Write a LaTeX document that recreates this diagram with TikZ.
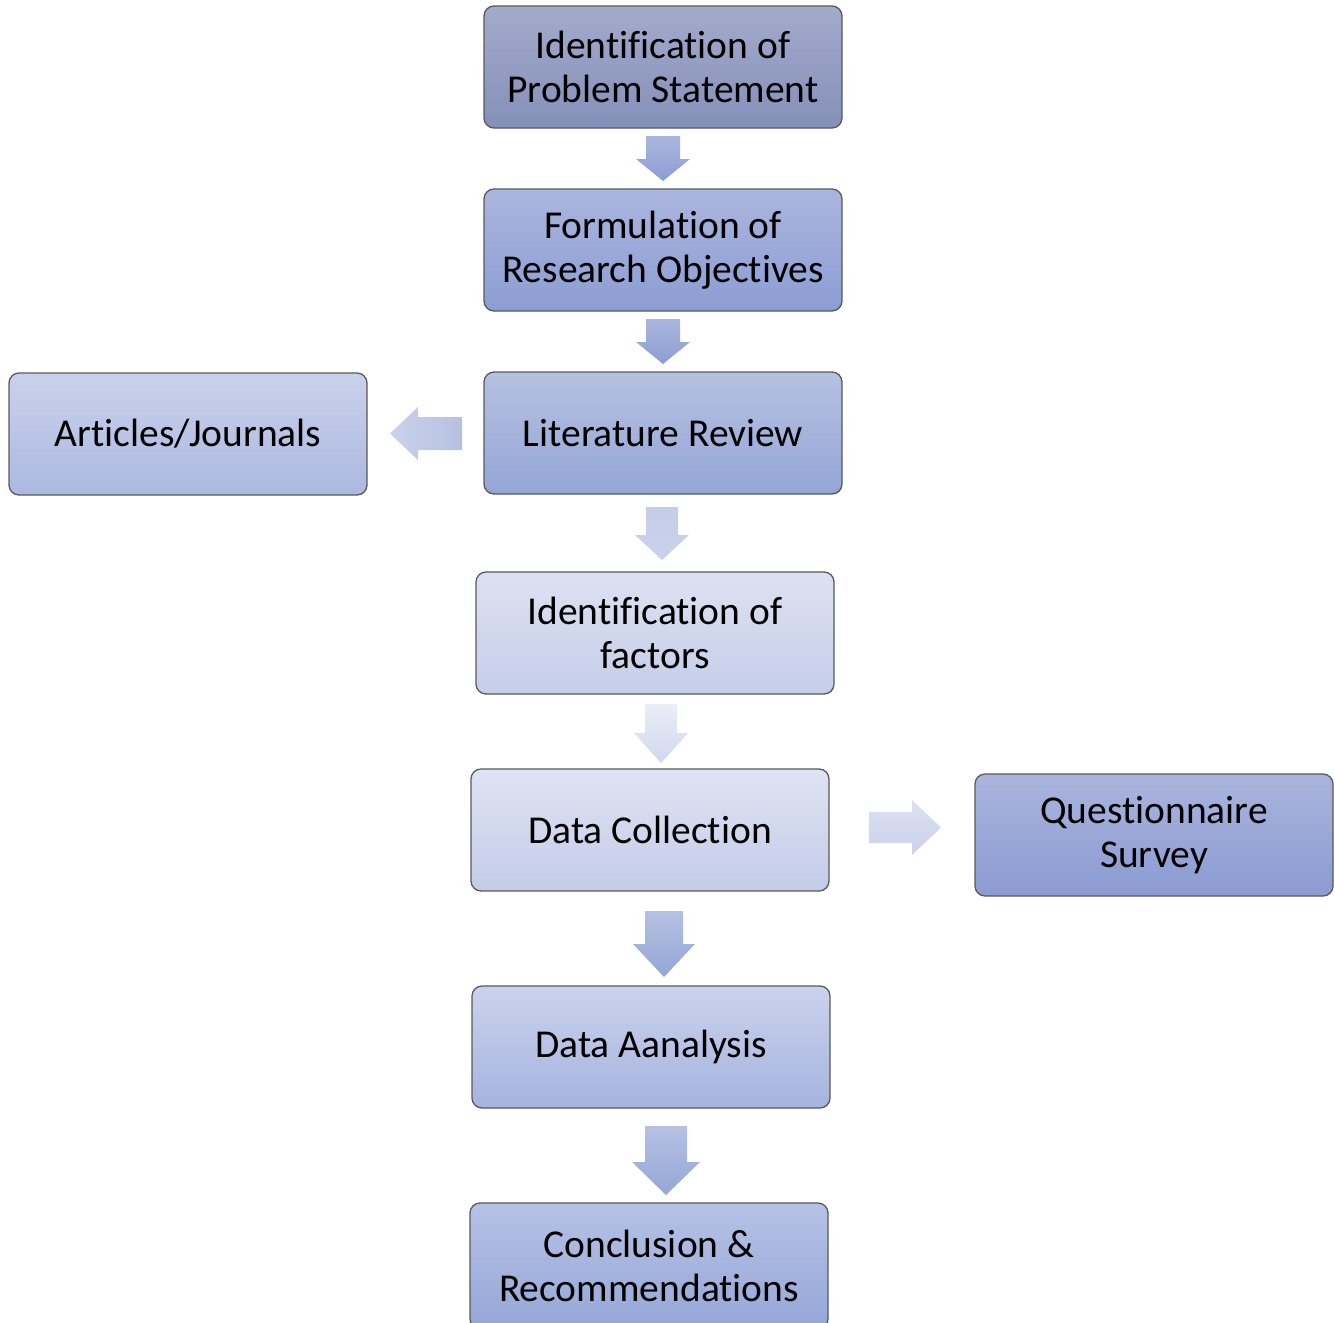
\documentclass[tikz,border=0pt]{standalone}
\usepackage{fontspec}
\setmainfont[Ligatures=NoCommon]{Carlito}
\begin{document}
\begin{tikzpicture}[x=1pt,y=-1pt,
  stepbox/.style={draw=black!65, line width=1.3pt, rounded corners=10pt,
    minimum width=358pt, minimum height=122pt, align=center, inner sep=0pt,
    font=\fontsize{39.5}{44}\selectfont, text=black}]
\useasboundingbox (0,0) rectangle (1335,1322);
\definecolor{c1t}{HTML}{A3ABCB}\definecolor{c1b}{HTML}{8590B9}
\definecolor{c2t}{HTML}{ABB6DE}\definecolor{c2b}{HTML}{8C9DD3}
\definecolor{c3t}{HTML}{B6C1E2}\definecolor{c3b}{HTML}{94A6D6}
\definecolor{c4t}{HTML}{CAD1EB}\definecolor{c4b}{HTML}{ABB8E0}
\definecolor{c5t}{HTML}{DDE1F1}\definecolor{c5b}{HTML}{C5CDE9}
\definecolor{c6t}{HTML}{DFE3F2}\definecolor{c6b}{HTML}{C3CBE8}
\definecolor{c7t}{HTML}{AAB5DD}\definecolor{c7b}{HTML}{8B9BD2}
\definecolor{c8t}{HTML}{CAD2EC}\definecolor{c8b}{HTML}{A5B3DF}
\definecolor{c9t}{HTML}{B6C2E5}\definecolor{c9b}{HTML}{95A7D8}

% process boxes
\node[stepbox, top color=c1t, bottom color=c1b] (prob) at (663,67) {Identification of\\Problem Statement};
\node[stepbox, top color=c2t, bottom color=c2b] (obj) at (663,250) {Formulation of\\Research Objectives};
\node[stepbox, top color=c3t, bottom color=c3b] (lit) at (663,433) {Literature Review};
\node[stepbox, top color=c4t, bottom color=c4b] (art) at (188,434) {Articles/Journals};
\node[stepbox, top color=c5t, bottom color=c5b] (fac) at (655,633) {Identification of\\factors};
\node[stepbox, top color=c6t, bottom color=c6b] (col) at (650,830) {Data Collection};
\node[stepbox, top color=c7t, bottom color=c7b] (que) at (1154,835) {Questionnaire\\Survey};
\node[stepbox, top color=c8t, bottom color=c8b] (ana) at (651,1047) {Data Aanalysis};
\node[stepbox, top color=c9t, bottom color=c9b, minimum height=126pt] (con) at (649,1266) {Conclusion \&\\Recommendations};

% block arrows: \downblk{cx}{top}{headstart}{tip}{shaft half}{head half}{topcol}{botcol}
\newcommand{\downblk}[8]{%
  \shade[top color=#7, bottom color=#8]
    (#1-#5,#2) -- (#1+#5,#2) -- (#1+#5,#3) -- (#1+#6,#3) -- (#1,#4)
    -- (#1-#6,#3) -- (#1-#5,#3) -- cycle;}
\downblk{663}{136}{159}{181}{17}{27}{c2t}{c2b}
\downblk{663}{319}{342}{364}{17}{27}{c2t}{c2b}
\downblk{662}{507}{535}{560}{16}{27}{c3t!80!white}{c4t}
\downblk{661}{704}{733}{763}{16}{27}{c5t!60!white}{c5b!80!white}
\downblk{664}{911}{944}{977}{19}{31}{c3t}{c3b}
\downblk{666}{1126}{1162}{1195}{21}{34}{c3t}{c9b}

% sideways block arrows
\shade[left color=c4t, right color=c3t]
  (462,417) -- (462,450) -- (418,450) -- (418,460) -- (390,433.5)
  -- (418,407) -- (418,417) -- cycle;
\shade[top color=c5t, bottom color=c4t]
  (869,812) -- (912,812) -- (912,800) -- (941,827.5) -- (912,855)
  -- (912,843) -- (869,843) -- cycle;
\end{tikzpicture}
\end{document}
